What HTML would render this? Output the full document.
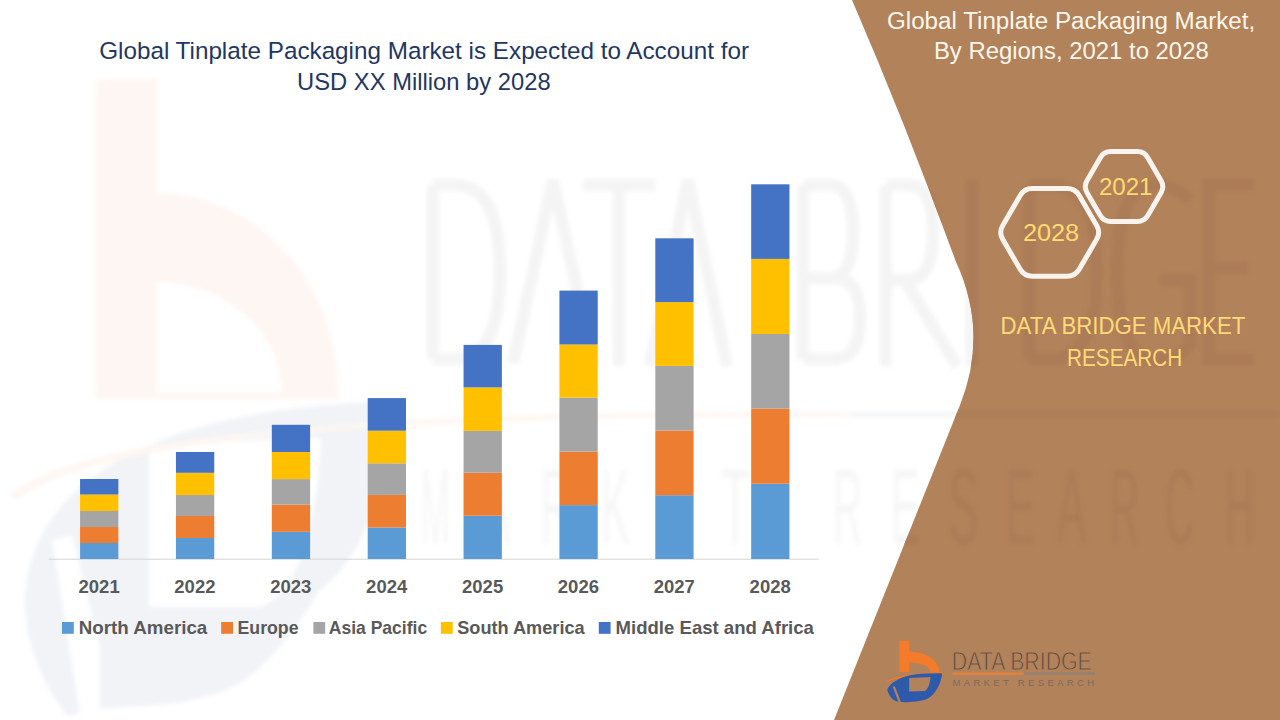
<!DOCTYPE html>
<html><head><meta charset="utf-8">
<style>
html,body{margin:0;padding:0;width:1280px;height:720px;overflow:hidden;background:#fff}
svg{display:block}
text{font-family:"Liberation Sans",sans-serif}
.yr{font-weight:bold;font-size:18.5px;fill:#595959}
.lg{font-weight:bold;font-size:18.5px;fill:#595959}
.ttl{font-size:23.9px;fill:#1F3762}
.rt{font-size:23.3px;fill:#FFF7EC}
.gold{font-size:24.5px;fill:#FFDA76}
.hx{font-size:23.5px;fill:#FFDA72}
</style></head><body>
<svg width="1280" height="720" viewBox="0 0 1280 720">
<defs>
<filter id="blur" x="-5%" y="-5%" width="110%" height="110%"><feGaussianBlur stdDeviation="2"/></filter>
<clipPath id="brownclip"><path d="M852 0 Q906 125 956 262 Q989 333 960 405 L834 720 L1280 720 L1280 0 Z"/></clipPath>
</defs>
<rect width="1280" height="720" fill="#fff"/>

<g filter="url(#blur)">
<path d="M96,79 H157 V193 A181,200 0 0 1 338,393 L338,399 H96 Z M157,393 H282 A125,111 0 0 0 157,282 Z" fill="#FEF6F2" fill-rule="evenodd"/>
<path d="M25,600 C30,470 180,405 400,401 C392,480 362,560 318,592 C290,640 255,680 225,690 C200,700 170,705 141,706 L96,709 L67,716 C40,680 25,640 25,600 Z M149,445 L321,438 C318,520 300,590 262,607 L149,607 Z" fill="#F1F3F7" fill-rule="evenodd"/>
<path d="M52,540 L72,535 L100,646 L100,709 L80,714 Z" fill="#fff"/>
<path d="M433,185 V359 M433,185 H455 Q500,185 500,272 Q500,359 455,359 H433 M513,363 L553,180 L593,363 M583,185 H655 M619,185 V366 M650,366 L688,180 L727,366 M803,185 V359 M803,185 H830 Q853,185 853,232 Q853,278 830,278 H803 M803,278 H834 Q860,278 860,318 Q860,359 834,359 H803 M886,185 V366 M886,185 H908 Q933,185 933,232 Q933,280 908,280 H886 M905,280 L957,366 M972,180 V366 M1029,185 V359 M1029,185 H1051 Q1097,185 1097,272 Q1097,359 1051,359 H1029 M1190,200 Q1175,185 1155,185 Q1117,185 1117,272 Q1117,359 1155,359 Q1180,359 1190,345 V280 H1160 M1253,185 H1209 V359 H1253 M1209,268 H1248" fill="none" stroke="#F4F4F4" stroke-width="12"/>
<text x="421" y="544" font-size="107" fill="#F6F6F6" textLength="29" lengthAdjust="spacingAndGlyphs">M</text>
<text x="481" y="544" font-size="107" fill="#F6F6F6" textLength="29" lengthAdjust="spacingAndGlyphs">A</text>
<text x="541" y="544" font-size="107" fill="#F6F6F6" textLength="29" lengthAdjust="spacingAndGlyphs">R</text>
<text x="601" y="544" font-size="107" fill="#F6F6F6" textLength="29" lengthAdjust="spacingAndGlyphs">K</text>
<text x="661" y="544" font-size="107" fill="#F6F6F6" textLength="29" lengthAdjust="spacingAndGlyphs">E</text>
<text x="721" y="544" font-size="107" fill="#F6F6F6" textLength="29" lengthAdjust="spacingAndGlyphs">T</text>
<text x="833" y="544" font-size="107" fill="#F6F6F6" textLength="29" lengthAdjust="spacingAndGlyphs">R</text>
<text x="891" y="544" font-size="107" fill="#F6F6F6" textLength="29" lengthAdjust="spacingAndGlyphs">E</text>
<text x="949" y="544" font-size="107" fill="#F6F6F6" textLength="29" lengthAdjust="spacingAndGlyphs">S</text>
<text x="1006" y="544" font-size="107" fill="#F6F6F6" textLength="29" lengthAdjust="spacingAndGlyphs">E</text>
<text x="1057" y="544" font-size="107" fill="#F6F6F6" textLength="29" lengthAdjust="spacingAndGlyphs">A</text>
<text x="1110" y="544" font-size="107" fill="#F6F6F6" textLength="29" lengthAdjust="spacingAndGlyphs">R</text>
<text x="1165" y="544" font-size="107" fill="#F6F6F6" textLength="29" lengthAdjust="spacingAndGlyphs">C</text>
<text x="1225" y="544" font-size="107" fill="#F6F6F6" textLength="29" lengthAdjust="spacingAndGlyphs">H</text>
<path d="M10,495 Q110,408 850,412 L850,417 Q125,413 16,500 Z" fill="#FEF6F1"/>
<rect x="850" y="412" width="430" height="5" fill="#F3F4F7"/>
</g>
<path d="M852 0 Q906 125 956 262 Q989 333 960 405 L834 720 L1280 720 L1280 0 Z" fill="#B2825A"/>
<g clip-path="url(#brownclip)" filter="url(#blur)"><path d="M96,79 H157 V193 A181,200 0 0 1 338,393 L338,399 H96 Z M157,393 H282 A125,111 0 0 0 157,282 Z" fill="#B2825A" fill-rule="evenodd"/>
<path d="M25,600 C30,470 180,405 400,401 C392,480 362,560 318,592 C290,640 255,680 225,690 C200,700 170,705 141,706 L96,709 L67,716 C40,680 25,640 25,600 Z M149,445 L321,438 C318,520 300,590 262,607 L149,607 Z" fill="#B2825A" fill-rule="evenodd"/>
<path d="M52,540 L72,535 L100,646 L100,709 L80,714 Z" fill="#B2825A"/>
<path d="M433,185 V359 M433,185 H455 Q500,185 500,272 Q500,359 455,359 H433 M513,363 L553,180 L593,363 M583,185 H655 M619,185 V366 M650,366 L688,180 L727,366 M803,185 V359 M803,185 H830 Q853,185 853,232 Q853,278 830,278 H803 M803,278 H834 Q860,278 860,318 Q860,359 834,359 H803 M886,185 V366 M886,185 H908 Q933,185 933,232 Q933,280 908,280 H886 M905,280 L957,366 M972,180 V366 M1029,185 V359 M1029,185 H1051 Q1097,185 1097,272 Q1097,359 1051,359 H1029 M1190,200 Q1175,185 1155,185 Q1117,185 1117,272 Q1117,359 1155,359 Q1180,359 1190,345 V280 H1160 M1253,185 H1209 V359 H1253 M1209,268 H1248" fill="none" stroke="#AC7C57" stroke-width="12"/>
<text x="421" y="544" font-size="107" fill="#AB7B56" textLength="29" lengthAdjust="spacingAndGlyphs">M</text>
<text x="481" y="544" font-size="107" fill="#AB7B56" textLength="29" lengthAdjust="spacingAndGlyphs">A</text>
<text x="541" y="544" font-size="107" fill="#AB7B56" textLength="29" lengthAdjust="spacingAndGlyphs">R</text>
<text x="601" y="544" font-size="107" fill="#AB7B56" textLength="29" lengthAdjust="spacingAndGlyphs">K</text>
<text x="661" y="544" font-size="107" fill="#AB7B56" textLength="29" lengthAdjust="spacingAndGlyphs">E</text>
<text x="721" y="544" font-size="107" fill="#AB7B56" textLength="29" lengthAdjust="spacingAndGlyphs">T</text>
<text x="833" y="544" font-size="107" fill="#AB7B56" textLength="29" lengthAdjust="spacingAndGlyphs">R</text>
<text x="891" y="544" font-size="107" fill="#AB7B56" textLength="29" lengthAdjust="spacingAndGlyphs">E</text>
<text x="949" y="544" font-size="107" fill="#AB7B56" textLength="29" lengthAdjust="spacingAndGlyphs">S</text>
<text x="1006" y="544" font-size="107" fill="#AB7B56" textLength="29" lengthAdjust="spacingAndGlyphs">E</text>
<text x="1057" y="544" font-size="107" fill="#AB7B56" textLength="29" lengthAdjust="spacingAndGlyphs">A</text>
<text x="1110" y="544" font-size="107" fill="#AB7B56" textLength="29" lengthAdjust="spacingAndGlyphs">R</text>
<text x="1165" y="544" font-size="107" fill="#AB7B56" textLength="29" lengthAdjust="spacingAndGlyphs">C</text>
<text x="1225" y="544" font-size="107" fill="#AB7B56" textLength="29" lengthAdjust="spacingAndGlyphs">H</text>
<path d="M10,495 Q110,408 850,412 L850,417 Q125,413 16,500 Z" fill="#B08059"/>
<rect x="850" y="412" width="430" height="5" fill="#AB7C57"/></g>
<rect x="48.7" y="558.7" width="770" height="1" fill="#D4D4D4"/>
<rect x="80.08" y="543" width="38.3" height="16.00" fill="#5B9BD5"/>
<rect x="80.08" y="527" width="38.3" height="16.00" fill="#ED7D31"/>
<rect x="80.08" y="511" width="38.3" height="16.00" fill="#A5A5A5"/>
<rect x="80.08" y="494.5" width="38.3" height="16.50" fill="#FFC000"/>
<rect x="80.08" y="479" width="38.3" height="15.50" fill="#4472C4"/>
<text x="99.1" y="593" class="yr" text-anchor="middle">2021</text>
<rect x="175.95" y="538" width="38.3" height="21.00" fill="#5B9BD5"/>
<rect x="175.95" y="516" width="38.3" height="22.00" fill="#ED7D31"/>
<rect x="175.95" y="495" width="38.3" height="21.00" fill="#A5A5A5"/>
<rect x="175.95" y="472.8" width="38.3" height="22.20" fill="#FFC000"/>
<rect x="175.95" y="452" width="38.3" height="20.80" fill="#4472C4"/>
<text x="194.9" y="593" class="yr" text-anchor="middle">2022</text>
<rect x="271.82" y="531.8" width="38.3" height="27.20" fill="#5B9BD5"/>
<rect x="271.82" y="504.6" width="38.3" height="27.20" fill="#ED7D31"/>
<rect x="271.82" y="479.1" width="38.3" height="25.50" fill="#A5A5A5"/>
<rect x="271.82" y="452" width="38.3" height="27.10" fill="#FFC000"/>
<rect x="271.82" y="424.8" width="38.3" height="27.20" fill="#4472C4"/>
<text x="290.8" y="593" class="yr" text-anchor="middle">2023</text>
<rect x="367.69" y="527.5" width="38.3" height="31.50" fill="#5B9BD5"/>
<rect x="367.69" y="494.9" width="38.3" height="32.60" fill="#ED7D31"/>
<rect x="367.69" y="463.3" width="38.3" height="31.60" fill="#A5A5A5"/>
<rect x="367.69" y="430.7" width="38.3" height="32.60" fill="#FFC000"/>
<rect x="367.69" y="398.1" width="38.3" height="32.60" fill="#4472C4"/>
<text x="386.7" y="593" class="yr" text-anchor="middle">2024</text>
<rect x="463.56" y="515.7" width="38.3" height="43.30" fill="#5B9BD5"/>
<rect x="463.56" y="472.7" width="38.3" height="43.00" fill="#ED7D31"/>
<rect x="463.56" y="430.9" width="38.3" height="41.80" fill="#A5A5A5"/>
<rect x="463.56" y="387.4" width="38.3" height="43.50" fill="#FFC000"/>
<rect x="463.56" y="344.9" width="38.3" height="42.50" fill="#4472C4"/>
<text x="482.6" y="593" class="yr" text-anchor="middle">2025</text>
<rect x="559.43" y="505.1" width="38.3" height="53.90" fill="#5B9BD5"/>
<rect x="559.43" y="451.5" width="38.3" height="53.60" fill="#ED7D31"/>
<rect x="559.43" y="397.6" width="38.3" height="53.90" fill="#A5A5A5"/>
<rect x="559.43" y="344.5" width="38.3" height="53.10" fill="#FFC000"/>
<rect x="559.43" y="290.6" width="38.3" height="53.90" fill="#4472C4"/>
<text x="578.4" y="593" class="yr" text-anchor="middle">2026</text>
<rect x="655.30" y="495.2" width="38.3" height="63.80" fill="#5B9BD5"/>
<rect x="655.30" y="430.5" width="38.3" height="64.70" fill="#ED7D31"/>
<rect x="655.30" y="365.9" width="38.3" height="64.60" fill="#A5A5A5"/>
<rect x="655.30" y="302.1" width="38.3" height="63.80" fill="#FFC000"/>
<rect x="655.30" y="238.3" width="38.3" height="63.80" fill="#4472C4"/>
<text x="674.3" y="593" class="yr" text-anchor="middle">2027</text>
<rect x="751.17" y="483.7" width="38.3" height="75.30" fill="#5B9BD5"/>
<rect x="751.17" y="408.5" width="38.3" height="75.20" fill="#ED7D31"/>
<rect x="751.17" y="334" width="38.3" height="74.50" fill="#A5A5A5"/>
<rect x="751.17" y="258.9" width="38.3" height="75.10" fill="#FFC000"/>
<rect x="751.17" y="184.3" width="38.3" height="74.60" fill="#4472C4"/>
<text x="770.2" y="593" class="yr" text-anchor="middle">2028</text>
<rect x="62" y="622" width="11.8" height="11.8" fill="#5B9BD5"/>
<text x="78.8" y="633.8" class="lg" textLength="128.5" lengthAdjust="spacingAndGlyphs">North America</text>
<rect x="221.2" y="622" width="11.8" height="11.8" fill="#ED7D31"/>
<text x="237.5" y="633.8" class="lg" textLength="61" lengthAdjust="spacingAndGlyphs">Europe</text>
<rect x="313.4" y="622" width="11.8" height="11.8" fill="#A5A5A5"/>
<text x="328.8" y="633.8" class="lg" textLength="98.4" lengthAdjust="spacingAndGlyphs">Asia Pacific</text>
<rect x="440.9" y="622" width="11.8" height="11.8" fill="#FFC000"/>
<text x="457.2" y="633.8" class="lg" textLength="127.5" lengthAdjust="spacingAndGlyphs">South America</text>
<rect x="598.8" y="622" width="11.8" height="11.8" fill="#4472C4"/>
<text x="615.6" y="633.8" class="lg" textLength="198.3" lengthAdjust="spacingAndGlyphs">Middle East and Africa</text>
<text x="99.2" y="59.1" class="ttl" textLength="649.8" lengthAdjust="spacingAndGlyphs">Global Tinplate Packaging Market is Expected to Account for</text>
<text x="297.1" y="90.4" class="ttl" textLength="253.5" lengthAdjust="spacingAndGlyphs">USD XX Million by 2028</text>
<text x="887" y="28.9" class="rt" textLength="368.2" lengthAdjust="spacingAndGlyphs">Global Tinplate Packaging Market,</text>
<text x="933.9" y="59.4" class="rt" textLength="274.8" lengthAdjust="spacingAndGlyphs">By Regions, 2021 to 2028</text>
<text x="1000.5" y="334.2" class="gold" textLength="244.8" lengthAdjust="spacingAndGlyphs">DATA BRIDGE MARKET</text>
<text x="1067" y="365.8" class="gold" textLength="115.2" lengthAdjust="spacingAndGlyphs">RESEARCH</text>

<path d="M1002.73,239.31 Q998.70,232.40 1002.73,225.49 L1020.17,195.51 Q1024.20,188.60 1032.20,188.60 L1067.20,188.60 Q1075.20,188.60 1079.23,195.51 L1096.67,225.49 Q1100.70,232.40 1096.67,239.31 L1079.23,269.29 Q1075.20,276.20 1067.20,276.20 L1032.20,276.20 Q1024.20,276.20 1020.17,269.29 Z" fill="none" stroke="#FBF4EE" stroke-width="5"/>
<path d="M1087.06,192.66 Q1083.55,186.60 1087.06,180.54 L1100.29,157.66 Q1103.80,151.60 1110.80,151.60 L1137.30,151.60 Q1144.30,151.60 1147.81,157.66 L1161.04,180.54 Q1164.55,186.60 1161.04,192.66 L1147.81,215.54 Q1144.30,221.60 1137.30,221.60 L1110.80,221.60 Q1103.80,221.60 1100.29,215.54 Z" fill="none" stroke="#FBF4EE" stroke-width="5"/>
<text x="1022.9" y="241" class="hx" textLength="56.3" lengthAdjust="spacingAndGlyphs">2028</text>
<text x="1098.9" y="195.2" class="hx" textLength="53.6" lengthAdjust="spacingAndGlyphs">2021</text>
<g id="logo">
<path d="M899.4,640.8 H909.2 V651.5 A30,20.5 0 0 1 939.3,672 H930.5 A21.3,9.8 0 0 0 909.2,662.2 V672 H899.4 Z" fill="#F47B2A"/>
<path d="M885.8,681 Q903,673 943,672.2 L943,674.5 Q906,674.5 886.3,681.6 Z" fill="#F47B2A"/>
<path d="M887.3,689.4 C891,681 905,674 925,673.4 L942.2,673.2 C941,684 936,694 927,699 C920,702 905,702.5 899.4,702 C893,701 888.5,696 887.3,689.4 Z M909.2,678 L930.5,677 C930,684 928,689 925,691 L909.2,691.4 Z" fill="#2E5AAC" fill-rule="evenodd"/>
<path d="M892.6,686.5 L895,686.5 L901,702.5 L898.6,702.5 Z" fill="#B2825A"/>
<text x="951.8" y="669.8" font-size="26.4" fill="#594A42" stroke="#B2825A" stroke-width="0.9" textLength="140" lengthAdjust="spacingAndGlyphs">DATA BRIDGE</text>
<rect x="952.5" y="672.5" width="71.3" height="2" fill="#E8833C"/>
<rect x="1023.8" y="672.5" width="71.2" height="2" fill="#8C8078"/>
<text x="952.5" y="686.3" font-size="9.5" fill="#7A6A60" textLength="141.5" lengthAdjust="spacing">MARKET RESEARCH</text>
</g>
</svg>
</body></html>
